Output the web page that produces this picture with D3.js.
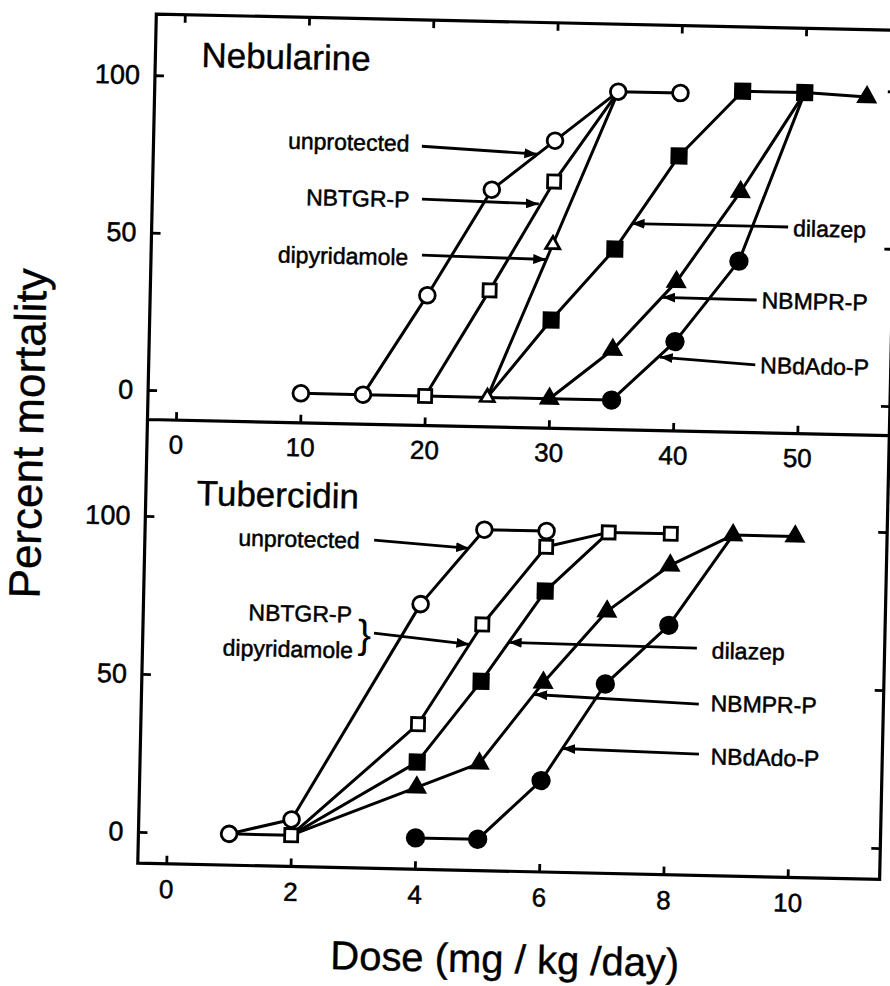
<!DOCTYPE html>
<html>
<head>
<meta charset="utf-8">
<script src="https://cdn.jsdelivr.net/npm/d3@7"></script>
<style>
  html, body { margin: 0; background: #fff; }
  svg { display: block; }
  text { font-family: "Liberation Sans", Arial, Helvetica, sans-serif; fill: #000; }
</style>
</head>
<body>
<svg id="chart" width="890" height="986"></svg>
<script>
// ---- Nebularine: [dose mg/kg/day, percent mortality] ----
const nebUnprotected  = [[10,0],[15,0],[20,32],[25,66],[30,82],[35,98],[40,98]];
const nebNBTGR        = [[15,0],[20,0],[25,34],[30,69],[35,98]];
const nebDipyridamole = [[20,0],[25,0],[30,49],[35,98]];
const nebDilazep      = [[25,0],[30,25],[35,48],[40,78],[45,99],[50,99]];
const nebNBMPR        = [[25,0],[30,0],[35,16],[40,38],[45,67],[50,99],[55,98]];
const nebNBdAdo       = [[30,0],[35,0],[40,19],[45,45],[50,99]];

// ---- Tubercidin: [dose mg/kg/day, percent mortality] ----
const tubUnprotected  = [[1,0],[2,5],[4,74],[5,98],[6,98]];
const tubNBTGR        = [[1,0],[2,0],[4,36],[5,68],[6,93],[7,98],[8,98]];
const tubDilazep      = [[2,0],[4,24],[5,50],[6,79],[7,98]];
const tubNBMPR        = [[2,0],[4,16],[5,24],[6,50],[7,73],[8,88],[9,98],[10,98]];
const tubNBdAdo       = [[4,0],[5,0],[6,19],[7,50],[8,69],[9,98]];

// ---- tick labels ----
const nebDoseTicks = [0, 10, 20, 30, 40, 50];
const tubDoseTicks = [0, 2, 4, 6, 8, 10];
const mortalityTicks = [0, 50, 100];

// ---- arrow labels: text, text anchor point, arrow start, arrow tip (data units) ----
const nebLabels = [
  { text: "unprotected",  at: [18.3, 80.2], anchor: "end",   from: [19.3, 79.3], to: [28.6, 77.6] },
  { text: "NBTGR-P",      at: [18.4, 62.4], anchor: "end",   from: [19.4, 62.5], to: [28.8, 61.8] },
  { text: "dipyridamole", at: [18.4, 44.0], anchor: "end",   from: [19.5, 44.7], to: [29.5, 44.2] },
  { text: "dilazep",      at: [49.3, 55.9], anchor: "start", from: [48.9, 56.2], to: [36.3, 56.2] },
  { text: "NBMPR-P",      at: [46.9, 32.8], anchor: "start", from: [46.5, 32.8], to: [38.9, 33.0] },
  { text: "NBdAdo-P",     at: [46.9, 12.2], anchor: "start", from: [46.5, 12.2], to: [38.8, 14.0] }
];
const tubLabels = [
  { text: "unprotected",  at: [3.0, 93.8],  anchor: "end",   from: [3.23, 93.9], to: [4.76, 92.0] },
  { text: "NBTGR-P",      at: [2.9, 70.3],  anchor: "end" },
  { text: "dipyridamole", at: [2.93, 59.0], anchor: "end",   from: [3.26, 64.5], to: [4.80, 61.6] },
  { text: "dilazep",      at: [8.7, 61.4],  anchor: "start", from: [8.46, 62.0], to: [5.43, 62.5] },
  { text: "NBMPR-P",      at: [8.7, 44.7],  anchor: "start", from: [8.51, 44.3], to: [5.86, 46.2] },
  { text: "NBdAdo-P",     at: [8.72, 27.9], anchor: "start", from: [8.53, 28.5], to: [6.33, 29.3] }
];

// ---- layout ----
const frame = { left: 147, right: 889, top: 22, split: 427.5, bottom: 871.3 };

const svg = d3.select("#chart");
const defs = svg.append("defs");
defs.append("marker")
  .attr("id", "arrowhead")
  .attr("markerUnits", "userSpaceOnUse")
  .attr("viewBox", "0 0 13 10")
  .attr("refX", 13).attr("refY", 5)
  .attr("markerWidth", 13).attr("markerHeight", 10)
  .attr("orient", "auto")
  .append("path").attr("d", "M0,0 L13,5 L0,10 Z").attr("fill", "#000");

// the printed figure sits slightly turned on the page
const g = svg.append("g").attr("transform", "rotate(1.25,515,445)");

const xNeb = d3.scaleLinear().domain([0, 50]).range([175.5, 797]);
const yNeb = d3.scaleLinear().domain([0, 100]).range([398, 83.2]);
const xTub = d3.scaleLinear().domain([0, 10]).range([175.5, 797]);
const yTub = d3.scaleLinear().domain([0, 100]).range([840, 524]);

// ---- frame ----
g.append("path")
  .attr("d", `M${frame.left},${frame.top} H${frame.right} V${frame.bottom} H${frame.left} Z
              M${frame.left},${frame.split} H${frame.right}`)
  .attr("fill", "none").attr("stroke", "#000").attr("stroke-width", 3.2);

function styleAxis(sel, fontSize) {
  sel.select(".domain").remove();
  sel.selectAll(".tick line").attr("stroke", "#000").attr("stroke-width", 2.8);
  sel.selectAll(".tick text").attr("font-size", fontSize).attr("fill", "#000")
     .attr("stroke", "#000").attr("stroke-width", 0.5)
     .attr("font-family", '"Liberation Sans", Arial, sans-serif');
}

// Nebularine axes
g.append("g").attr("transform", `translate(0,${frame.split})`)
  .call(d3.axisBottom(xNeb).tickValues(nebDoseTicks).tickSizeInner(-8).tickSizeOuter(0).tickPadding(15))
  .call(s => styleAxis(s, 26));
g.append("g").attr("transform", `translate(0,${frame.top})`)
  .call(d3.axisTop(xNeb).tickValues(nebDoseTicks).tickSizeInner(-8).tickSizeOuter(0).tickFormat(() => ""))
  .call(s => styleAxis(s, 26));
g.append("g").attr("transform", `translate(${frame.left},0)`)
  .call(d3.axisLeft(yNeb).tickValues(mortalityTicks).tickSizeInner(-9).tickSizeOuter(0).tickPadding(15))
  .call(s => styleAxis(s, 27));
g.append("g").attr("transform", `translate(${frame.right},0)`)
  .call(d3.axisRight(yNeb).tickValues(mortalityTicks).tickSizeInner(-9).tickSizeOuter(0).tickFormat(() => ""))
  .call(s => styleAxis(s, 27));

// Tubercidin axes
g.append("g").attr("transform", `translate(0,${frame.bottom})`)
  .call(d3.axisBottom(xTub).tickValues(tubDoseTicks).tickSizeInner(-8).tickSizeOuter(0).tickPadding(16))
  .call(s => styleAxis(s, 26));
g.append("g").attr("transform", `translate(${frame.left},0)`)
  .call(d3.axisLeft(yTub).tickValues(mortalityTicks).tickSizeInner(-9).tickSizeOuter(0).tickPadding(15))
  .call(s => styleAxis(s, 27));
g.append("g").attr("transform", `translate(${frame.right},0)`)
  .call(d3.axisRight(yTub).tickValues(mortalityTicks).tickSizeInner(-9).tickSizeOuter(0).tickFormat(() => ""))
  .call(s => styleAxis(s, 27));

// ---- series ----
const symbolFor = {
  openCircle:     { type: d3.symbolCircle,   size: 195, fill: "#fff" },
  openSquare:     { type: d3.symbolSquare,   size: 170, fill: "#fff" },
  openTriangle:   { type: d3.symbolTriangle, size: 85,  fill: "#fff" },
  filledSquare:   { type: d3.symbolSquare,   size: 205, fill: "#000" },
  filledTriangle: { type: d3.symbolTriangle, size: 115, fill: "#000" },
  filledCircle:   { type: d3.symbolCircle,   size: 215, fill: "#000" }
};

function drawPanel(series, x, y) {
  const line = d3.line().x(d => x(d[0])).y(d => y(d[1]));
  const lines = g.append("g");
  const marks = g.append("g");
  series.forEach(s => {
    lines.append("path").datum(s.values).attr("d", line)
      .attr("fill", "none").attr("stroke", "#000").attr("stroke-width", 3)
      .attr("stroke-linejoin", "round");
  });
  // a point already marked by an earlier series keeps that series' symbol
  const seen = new Set();
  series.forEach(s => {
    const own = s.values.filter(d => {
      const key = d[0] + ":" + d[1];
      if (seen.has(key)) return false;
      seen.add(key);
      return true;
    });
    const sym = symbolFor[s.symbol];
    marks.selectAll(null).data(own).join("path")
      .attr("transform", d => `translate(${x(d[0])},${y(d[1])})`)
      .attr("d", d3.symbol().type(sym.type).size(sym.size))
      .attr("fill", sym.fill).attr("stroke", "#000").attr("stroke-width", 2.8);
  });
}

drawPanel([
  { values: nebUnprotected,  symbol: "openCircle" },
  { values: nebNBTGR,        symbol: "openSquare" },
  { values: nebDipyridamole, symbol: "openTriangle" },
  { values: nebDilazep,      symbol: "filledSquare" },
  { values: nebNBMPR,        symbol: "filledTriangle" },
  { values: nebNBdAdo,       symbol: "filledCircle" }
], xNeb, yNeb);

drawPanel([
  { values: tubUnprotected, symbol: "openCircle" },
  { values: tubNBTGR,       symbol: "openSquare" },
  { values: tubDilazep,     symbol: "filledSquare" },
  { values: tubNBMPR,       symbol: "filledTriangle" },
  { values: tubNBdAdo,      symbol: "filledCircle" }
], xTub, yTub);

// ---- arrow labels ----
function drawLabels(labels, x, y) {
  const lg = g.append("g");
  labels.forEach(l => {
    lg.append("text")
      .attr("x", x(l.at[0])).attr("y", y(l.at[1]))
      .attr("dy", "0.36em").attr("text-anchor", l.anchor)
      .attr("font-size", 23).attr("stroke", "#000").attr("stroke-width", 0.5)
      .text(l.text);
    if (l.from) {
      lg.append("line")
        .attr("x1", x(l.from[0])).attr("y1", y(l.from[1]))
        .attr("x2", x(l.to[0])).attr("y2", y(l.to[1]))
        .attr("stroke", "#000").attr("stroke-width", 2.8)
        .attr("marker-end", "url(#arrowhead)");
    }
  });
}
drawLabels(nebLabels, xNeb, yNeb);
drawLabels(tubLabels, xTub, yTub);

// brace grouping the two Tubercidin labels that share one curve
g.append("text")
  .attr("x", xTub(3.0)).attr("y", yTub(64.2))
  .attr("dy", "0.35em").attr("font-size", 40)
  .text("}");

// ---- panel titles ----
g.append("text").attr("x", 193).attr("y", 74).attr("font-size", 35)
  .attr("stroke", "#000").attr("stroke-width", 0.4).text("Nebularine");
g.append("text").attr("x", 198).attr("y", 512).attr("font-size", 35)
  .attr("stroke", "#000").attr("stroke-width", 0.4).text("Tubercidin");

// ---- axis titles ----
g.append("text")
  .attr("transform", "translate(43,444) rotate(-90)")
  .attr("text-anchor", "middle").attr("font-size", 44)
  .attr("stroke", "#000").attr("stroke-width", 0.4)
  .text("Percent mortality");
g.append("text")
  .attr("x", 516).attr("y", 973).attr("text-anchor", "middle").attr("font-size", 40)
  .attr("stroke", "#000").attr("stroke-width", 0.4)
  .text("Dose (mg / kg /day)");
</script>
</body>
</html>
